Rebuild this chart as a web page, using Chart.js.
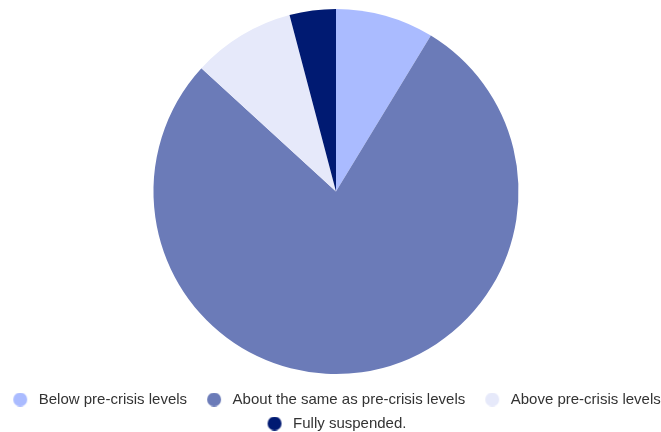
<!DOCTYPE html>
<html><head><meta charset="utf-8">
<script src="https://cdn.jsdelivr.net/npm/chart.js@4/dist/chart.umd.min.js"></script>
<style>html,body{margin:0;padding:0;background:#fff;overflow:hidden}#wrap{width:672px;height:432px}</style>
</head><body><div id="wrap"><canvas id="c"></canvas></div>
<script>
const categories = ["Below pre-crisis levels", "About the same as pre-crisis levels", "Above pre-crisis levels", "Fully suspended."];
const values = [8.7, 78.1, 9.1, 4.1];
const colors = ["#aabbff", "#6b7bb8", "#e6e9fa", "#001a72"];

const MARK_L = 11, MARK_D = 14, MARK_R = 3.5;
const MARK_W = MARK_L + MARK_D + MARK_R;
function makeMark(color) {
  const c = document.createElement('canvas');
  c.width = Math.round(MARK_W); c.height = MARK_D;
  const g = c.getContext('2d');
  g.fillStyle = color;
  g.beginPath();
  g.arc(MARK_L + MARK_D / 2, MARK_D / 2, MARK_D / 2, 0, Math.PI * 2);
  g.fill();
  return c;
}
const marks = colors.map(makeMark);

new Chart(document.getElementById('c'), {
  type: 'pie',
  data: { labels: categories, datasets: [{ data: values, backgroundColor: colors, borderWidth: 0, radius: 182.5 }] },
  options: {
    responsive: true, maintainAspectRatio: false, animation: false,
    layout: { padding: { top: 0, bottom: -9, left: -14, right: -5 } },
    plugins: {
      tooltip: { enabled: false },
      legend: {
        position: 'bottom',
        labels: {
          usePointStyle: true, pointStyleWidth: Math.round(MARK_W), padding: 9, color: '#333',
          font: { family: 'Liberation Sans, Arial', size: 15 },
          generateLabels: (chart) => categories.map((t, i) => ({
            text: t, fillStyle: colors[i], strokeStyle: colors[i], lineWidth: 0,
            pointStyle: marks[i], hidden: false, index: i, fontColor: '#333'
          }))
        }
      }
    }
  }
});
</script></body></html>
